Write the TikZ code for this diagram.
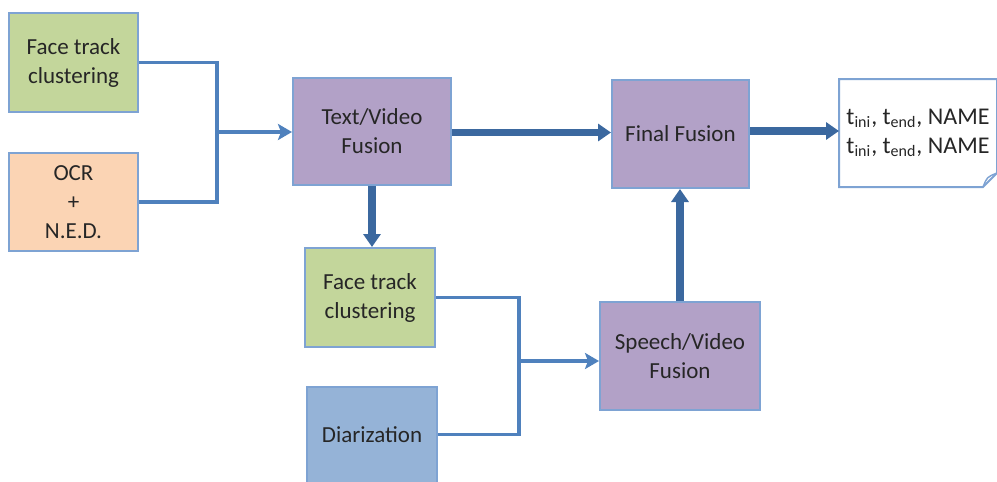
\documentclass[tikz,border=0pt]{standalone}
\usepackage{fontspec}
\setmainfont{Carlito}
\usetikzlibrary{arrows.meta,positioning}

\definecolor{boxline}{HTML}{7EA3D3}
\definecolor{thinline}{HTML}{4F81BD}
\definecolor{thickline}{HTML}{3B689F}
\definecolor{greenfill}{HTML}{C3D69B}
\definecolor{peachfill}{HTML}{FBD4B4}
\definecolor{purplefill}{HTML}{B2A1C7}
\definecolor{bluefill}{HTML}{95B3D7}
\definecolor{txt}{HTML}{262626}

\tikzset{
  block/.style={draw=boxline, line width=1pt, align=center, text=txt,
    font=\fontsize{11.5}{14.5}\selectfont, inner sep=0pt},
  thin/.style={draw=thinline, line width=1.9pt,
    -{Stealth[length=7pt,width=8pt,inset=1.5pt]}},
  thick/.style={draw=thickline, line width=3.6pt,
    -{Triangle[length=6.5pt,width=8.5pt]}}
}

\begin{document}
\begin{tikzpicture}[x=0.5pt,y=-0.5pt]
\useasboundingbox (0,0) rectangle (997,482);

% inputs
\node[block, fill=greenfill, minimum width=64.5pt, minimum height=49.5pt]
  (face1) at (73.5,62.5) {Face track\\clustering};
\node[block, fill=peachfill, minimum width=64.5pt, minimum height=49pt]
  (ocr) at (73.5,202) {OCR\\+\\N.E.D.};

% fusion blocks
\node[block, fill=purplefill, minimum width=79pt, minimum height=53.5pt]
  (tv) at (372,131.5) {Text/Video\\Fusion};
\node[block, fill=purplefill, minimum width=68.5pt, minimum height=54pt]
  (final) at (680.5,134) {Final Fusion};
\node[block, fill=greenfill, minimum width=65pt, minimum height=49.5pt]
  (face2) at (370,297.5) {Face track\\clustering};
\node[block, fill=bluefill, minimum width=65pt, minimum height=48pt]
  (diar) at (372,434.5) {Diarization};
\node[block, fill=purplefill, minimum width=80pt, minimum height=54pt]
  (sv) at (680,356) {Speech/Video\\Fusion};

% output page
\node[block, draw=none, minimum width=78pt, minimum height=53pt]
  (out) at (918,133) {};
\draw[boxline, line width=1pt, fill=white]
  (out.north west) -- (out.north east) -- ([yshift=7pt]out.south east)
  -- ([xshift=-7pt]out.south east) -- (out.south west) -- cycle;
\draw[boxline, line width=0.7pt]
  ([yshift=7pt]out.south east) .. controls ([xshift=-5pt,yshift=5pt]out.south east) .. ([xshift=-7pt]out.south east);
\node[block, draw=none, font=\fontsize{12}{14.5}\selectfont] (outtext) at (out)
  {t\textsubscript{ini}, t\textsubscript{end}, NAME\\t\textsubscript{ini}, t\textsubscript{end}, NAME};

% junctions
\coordinate (j1) at (217,132);
\coordinate (j2) at (519,361);

% thin connectors
\draw[thinline, line width=1.9pt] (face1.east) -| (j1) |- (ocr.east);
\draw[thin] (j1) -- (j1 -| tv.west);
\draw[thinline, line width=1.9pt] (face2.east) -| (j2) |- (diar.east);
\draw[thin] (j2) -- (j2 -| sv.west);

% thick arrows
\draw[thick] ([yshift=-0.5pt]tv.east) -- ([yshift=-0.5pt]tv.east -| final.west);
\draw[thick] ([yshift=1.5pt]final.east) -- ([yshift=1.5pt]final.east -| out.west);
\draw[thick] (tv.south) -- (tv.south |- face2.north);
\draw[thick] (sv.north) -- (sv.north |- final.south);
\end{tikzpicture}
\end{document}
